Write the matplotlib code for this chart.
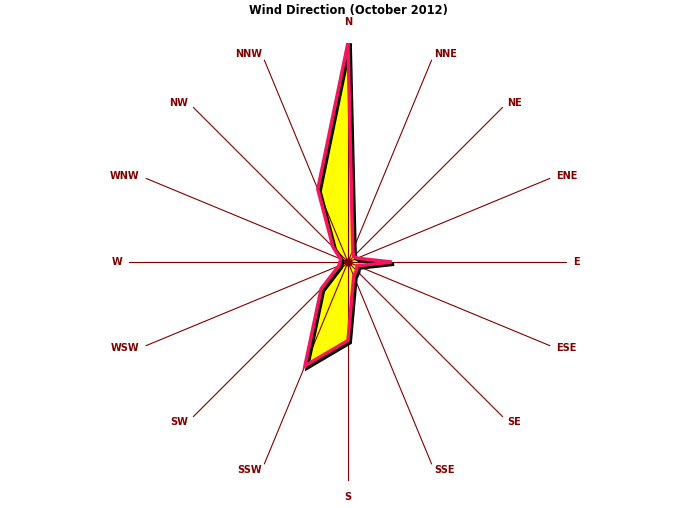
import numpy as np
import matplotlib
matplotlib.use('Agg')
import matplotlib.pyplot as plt
import matplotlib.patheffects as pe

# 风向数据 (October 2012)
directions = ['N', 'NNE', 'NE', 'ENE', 'E', 'ESE', 'SE', 'SSE',
              'S', 'SSW', 'SW', 'WSW', 'W', 'WNW', 'NW', 'NNW']
counts = [55, 3.2, 2, 2.5, 11, 2.5, 3, 3.8,
          19.7, 28.2, 9.5, 2.5, 2, 2, 5.3, 19.8]
title = 'Wind Direction (October 2012)'

dark_red = '#800000'
pink = '#F5145F'

fig = plt.figure(figsize=(6.96, 5.08), dpi=100)
ax = fig.add_axes([0.1853, 0.0531, 0.6293, 0.8622], projection='polar')
ax.set_theta_zero_location('N')
ax.set_theta_direction(-1)
rmax = max(counts)
ax.set_ylim(0, rmax)
ax.grid(False)
ax.set_xticks([])
ax.set_yticks([])
ax.spines['polar'].set_visible(False)

theta = np.deg2rad(np.arange(len(directions)) * 22.5)
t_closed = np.append(theta, theta[0])
c_closed = np.append(counts, counts[0])

# 阴影 + 黄色填充
ax.fill(t_closed, c_closed, color='yellow', zorder=2,
        path_effects=[pe.SimplePatchShadow(offset=(2, -2), shadow_rgbFace='black', alpha=1), pe.Normal()])

# 辐射线
for t in theta:
    ax.plot([t, t], [0, rmax], color=dark_red, lw=0.8, zorder=3)

# 边线
ax.plot(t_closed, c_closed, color=pink, lw=2.5, zorder=4, solid_joinstyle='miter',
        path_effects=[pe.SimpleLineShadow(offset=(1.6, -1.6), shadow_color='black', alpha=1), pe.Normal()])

ax.plot([0], [0], 'o', color=dark_red, ms=5, zorder=5)

for t, d in zip(theta, directions):
    s = np.sin(t)
    if d == 'N':
        f, ha = 1.095, 'center'
    elif d == 'S':
        f, ha = 1.075, 'center'
    else:
        f, ha = 1.03, ('left' if s > 0 else 'right')
    ax.text(t, rmax * f, d, color=dark_red, fontsize=7, fontweight='bold',
            ha=ha, va='center')

fig.text(0.5, 0.98, title, ha='center', va='center', fontsize=8.3, fontweight='bold')

fig.savefig('out.png', dpi=100)
